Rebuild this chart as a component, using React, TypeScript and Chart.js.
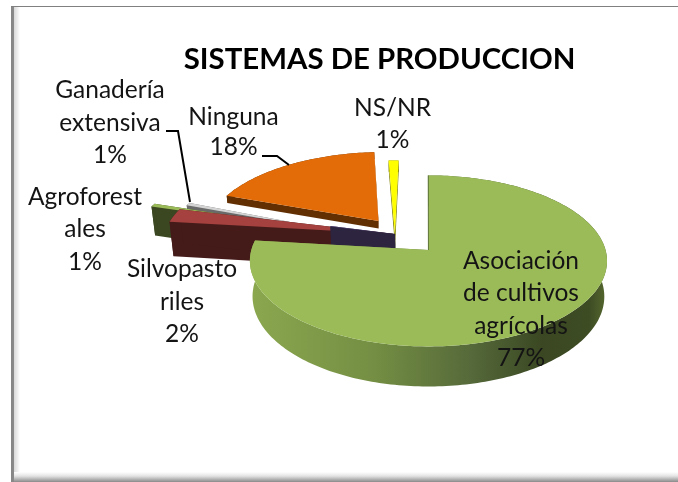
import React, { useEffect, useRef } from "react";
import { Chart, registerables } from "chart.js";

Chart.register(...registerables);

// ---- data ----
const categories = [
  "Asociación de cultivos agrícolas",
  "Silvopastoriles",
  "",
  "Agroforestales",
  "Ganadería extensiva",
  "Ninguna",
  "NS/NR",
];
const values = [77, 2, 0.2, 1, 1, 18, 1];
const percentLabels = ["77%", "2%", "", "1%", "1%", "18%", "1%"];
const labelLines = [
  ["Asociación", "de cultivos", "agrícolas"],
  ["Silvopasto", "riles"],
  [],
  ["Agroforest", "ales"],
  ["Ganadería", "extensiva"],
  ["Ninguna"],
  ["NS/NR"],
];
const chartTitle = "SISTEMAS DE PRODUCCION";

// ---- styles ----
const topColors = ["#9BBB59", "#A5423F", "#5B4A80", "#9BBB59", "#D4D4D4", "#E36C09", "#FFFF00"];
const wallColors = ["", "#451B1A", "#2D2440", "#3A4720", "#6A6A6A", "#622F03", "#7F7F00"];
const sliceShiftU = [0.008, -0.19, -0.184, -0.182, -0.182, -0.285, -0.185];
const sliceShiftV = [0, -0.195, -0.195, -0.108, -0.1, -0.36, -0.195];
const sliceReach = [0.995, 1.33, 0.39, 1.54, 1.35, 1, 1.03];
const sliceDepth = [35, 36, 36, 31, 6, 8, 13];
const sliceSweep = [1, 1, 1, 0.4, 0.4, 1.03, 1];
const drawOrder = [6, 5, 4, 3, 1, 2, 0];
const labelCenters = [
  { x: 521, y: [261, 293, 326, 358] },
  { x: 182, y: [269, 302, 334] },
  { x: 0, y: [] },
  { x: 85, y: [197, 229, 262] },
  { x: 110, y: [90, 123, 155] },
  { x: 233.5, y: [117, 147] },
  { x: 392.5, y: [108, 140] },
];
const leaderLines = [
  [[166, 131], [178, 131], [190, 202]],
  [[262, 156], [277, 156], [289, 165]],
];

const PIVOT_X = 427;
const PIVOT_Y = 250;
const TILT = 0.475;
const PERSPECTIVE = 0.128;
const LABEL_FONT = "24.5px Lato";

function project(u: number, v: number, radius: number) {
  const s = 1 / (1 - PERSPECTIVE * v);
  return { x: PIVOT_X + u * s * radius, y: PIVOT_Y + v * s * radius * TILT, s };
}

type Pt = { x: number; y: number; s: number };

const pie3d = {
  id: "pie3d",
  beforeDraw(chart: any) {
    const { ctx, width, height } = chart;
    ctx.save();
    ctx.fillStyle = "#ffffff";
    ctx.fillRect(0, 0, width, height);
    const left = ctx.createLinearGradient(11, 0, 20, 0);
    left.addColorStop(0, "#858585");
    left.addColorStop(0.3, "#8a8a8a");
    left.addColorStop(0.34, "#d8d8d8");
    left.addColorStop(1, "#ffffff");
    ctx.fillStyle = left;
    ctx.fillRect(11, 6, 9, 476);
    const bottom = ctx.createLinearGradient(0, 472, 0, 482);
    bottom.addColorStop(0, "#ffffff");
    bottom.addColorStop(0.4, "#e4e4e4");
    bottom.addColorStop(1, "#8a8a8a");
    ctx.fillStyle = bottom;
    ctx.fillRect(14, 472, width - 14, 10);
    ctx.fillStyle = "#808080";
    ctx.fillRect(11, 6, width - 11, 1);
    ctx.restore();
  },
  beforeDatasetsDraw(chart: any) {
    const { ctx } = chart;
    const arcs = chart.getDatasetMeta(0).data;
    ctx.save();
    drawOrder.forEach((i) => {
      const arc = arcs[i];
      const { startAngle, endAngle, outerRadius } = arc.getProps(
        ["startAngle", "endAngle", "outerRadius"],
        true,
      );
      const from = endAngle - (endAngle - startAngle) * sliceSweep[i];
      const reach = sliceReach[i];
      const apex = project(sliceShiftU[i], sliceShiftV[i], outerRadius);
      const rim: Pt[] = [];
      const steps = Math.max(4, Math.ceil((endAngle - from) / 0.02));
      for (let k = 0; k <= steps; k++) {
        const a = from + ((endAngle - from) * k) / steps;
        rim.push(
          project(
            sliceShiftU[i] + reach * Math.cos(a),
            sliceShiftV[i] + reach * Math.sin(a),
            outerRadius,
          ),
        );
      }
      const depth = sliceDepth[i];
      const low = (p: Pt) => ({
        x: PIVOT_X + (p.x - PIVOT_X) * (1 - (0.015 * depth) / 35),
        y: p.y + depth * p.s,
      });
      let wall: any = wallColors[i];
      if (i === 0) {
        wall = ctx.createLinearGradient(250, 0, 607, 0);
        wall.addColorStop(0, "#8BA84F");
        wall.addColorStop(0.35, "#748E43");
        wall.addColorStop(0.62, "#55693A");
        wall.addColorStop(0.82, "#3A4722");
        wall.addColorStop(0.95, "#3E4C24");
        wall.addColorStop(1, "#56692F");
      }
      ctx.fillStyle = wall;
      const polygon = (pts: { x: number; y: number }[]) => {
        ctx.beginPath();
        pts.forEach((p, k) => (k ? ctx.lineTo(p.x, p.y) : ctx.moveTo(p.x, p.y)));
        ctx.closePath();
        ctx.fill();
      };
      const first = rim[0];
      const last = rim[rim.length - 1];
      polygon([apex, first, low(first), low(apex)]);
      polygon([apex, last, low(last), low(apex)]);
      polygon([...rim, ...rim.slice().reverse().map(low)]);
      ctx.fillStyle = arc.options.backgroundColor;
      polygon([apex, ...rim]);
      if (i === 0) {
        ctx.strokeStyle = "#5C7335";
        ctx.lineWidth = 1;
        ctx.beginPath();
        ctx.moveTo(apex.x, apex.y);
        ctx.lineTo(first.x, first.y);
        ctx.stroke();
      }
    });
    ctx.restore();

    ctx.save();
    ctx.strokeStyle = "#000000";
    ctx.lineWidth = 2;
    leaderLines.forEach((line) => {
      ctx.beginPath();
      line.forEach(([x, y], k) => (k ? ctx.lineTo(x, y) : ctx.moveTo(x, y)));
      ctx.stroke();
    });
    ctx.restore();

    ctx.save();
    ctx.font = LABEL_FONT;
    ctx.fillStyle = "#141414";
    ctx.textAlign = "center";
    ctx.textBaseline = "middle";
    labelLines.forEach((lines, i) => {
      const texts = [...lines, percentLabels[i]];
      labelCenters[i].y.forEach((y, k) => {
        ctx.fillText(texts[k], labelCenters[i].x, y);
      });
    });
    ctx.restore();
    return false;
  },
};

export default function App() {
  const ref = useRef<HTMLCanvasElement>(null);
  useEffect(() => {
    const chart = new Chart(ref.current as HTMLCanvasElement, {
      type: "pie",
      data: {
        labels: categories,
        datasets: [{ data: values, backgroundColor: topColors, borderWidth: 0 }],
      },
      options: {
        responsive: false,
        animation: false,
        radius: 178,
        layout: { padding: { left: 81 } },
        plugins: {
          legend: { display: false },
          tooltip: { enabled: false },
          title: {
            display: true,
            text: chartTitle,
            color: "#000000",
            font: { family: "Lato", size: 29.4, weight: "bold" },
            padding: { top: 42, bottom: 10 },
          },
        },
      } as any,
      plugins: [pie3d as any],
    });
    return () => chart.destroy();
  }, []);
  return (
    <div style={{ position: "fixed", left: 0, top: 0, width: 678, height: 482 }}>
      <canvas ref={ref} width={678} height={482} style={{ display: "block" }} />
    </div>
  );
}
